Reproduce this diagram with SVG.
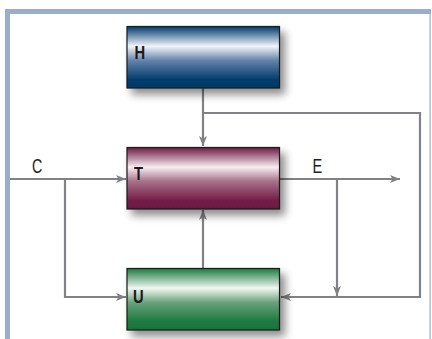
<svg xmlns="http://www.w3.org/2000/svg" width="432" height="339" viewBox="0 0 432 339">
<style>
.frame{fill:#9aadcb}
.box{stroke:#1a1a1a;stroke-width:1.2}
.lbl{font-family:"Liberation Sans",Arial,sans-serif;font-weight:bold;font-size:18px;fill:#1a1a1a}
.io{font-family:"Liberation Sans",Arial,sans-serif;font-size:21px;fill:#222}
.wire{fill:none;stroke:#808285;stroke-width:2.2}
</style>
<defs>
<linearGradient id="gH" x1="0" y1="0" x2="0" y2="1">
<stop offset="0" stop-color="#003a6e"/><stop offset="0.32" stop-color="#f2f5fa"/><stop offset="0.55" stop-color="#6584ab"/><stop offset="0.85" stop-color="#063f70"/><stop offset="1" stop-color="#003764"/>
</linearGradient>
<linearGradient id="gT" x1="0" y1="0" x2="0" y2="1">
<stop offset="0" stop-color="#6d1a42"/><stop offset="0.32" stop-color="#f7eef1"/><stop offset="0.55" stop-color="#a8718a"/><stop offset="0.85" stop-color="#74204a"/><stop offset="1" stop-color="#6a1840"/>
</linearGradient>
<linearGradient id="gU" x1="0" y1="0" x2="0" y2="1">
<stop offset="0" stop-color="#1d7a40"/><stop offset="0.32" stop-color="#f1f7f2"/><stop offset="0.55" stop-color="#6aa27c"/><stop offset="0.85" stop-color="#1f7b42"/><stop offset="1" stop-color="#17743c"/>
</linearGradient>
<filter id="sh" x="-20%" y="-30%" width="150%" height="170%">
<feGaussianBlur in="SourceAlpha" stdDeviation="4"/>
<feOffset dx="5" dy="6" result="b"/>
<feComponentTransfer><feFuncA type="linear" slope="0.45"/></feComponentTransfer>
<feMerge><feMergeNode/><feMergeNode in="SourceGraphic"/></feMerge>
</filter>
<marker id="ar" viewBox="0 0 10 10" refX="10" refY="5" markerWidth="10" markerHeight="10" markerUnits="userSpaceOnUse" orient="auto">
<path d="M0,1 L10,5 L0,9 L2.5,5 Z" fill="#808285"/>
</marker>
</defs>
<g id="frame">
<rect class="frame" x="5" y="9" width="426" height="5"/>
<rect class="frame" x="5" y="9" width="5" height="330"/>
<rect class="frame" x="429.5" y="9" width="1.2" height="330"/>
</g>
<g id="connectors">
<path class="wire" d="M203,88 V146" marker-end="url(#ar)"/>
<path class="wire" d="M203,113 H420 V297 H281" marker-end="url(#ar)"/>
<path class="wire" d="M10,179 H126" marker-end="url(#ar)"/>
<path class="wire" d="M65,179 V297 H126" marker-end="url(#ar)"/>
<path class="wire" d="M280,179 H400" marker-end="url(#ar)"/>
<path class="wire" d="M337,179 V296" marker-end="url(#ar)"/>
<path class="wire" d="M203,268 V210" marker-end="url(#ar)"/>
</g>
<g id="H">
<rect class="box" x="127" y="26.5" width="152.5" height="61.5" fill="url(#gH)" filter="url(#sh)"/>
<text class="lbl" transform="translate(134.5,59) scale(0.82,1)">H</text>
</g>
<g id="T">
<rect class="box" x="127" y="147.5" width="152.5" height="61.5" fill="url(#gT)" filter="url(#sh)"/>
<text class="lbl" transform="translate(134,179.5) scale(0.82,1)">T</text>
</g>
<g id="U">
<rect class="box" x="127" y="268.5" width="152.5" height="61.5" fill="url(#gU)" filter="url(#sh)"/>
<text class="lbl" transform="translate(133,303) scale(0.82,1)">U</text>
</g>
<text class="io" transform="translate(32,172.5) scale(0.68,1)">C</text>
<text class="io" transform="translate(312.5,172.5) scale(0.7,1)">E</text>
</svg>
